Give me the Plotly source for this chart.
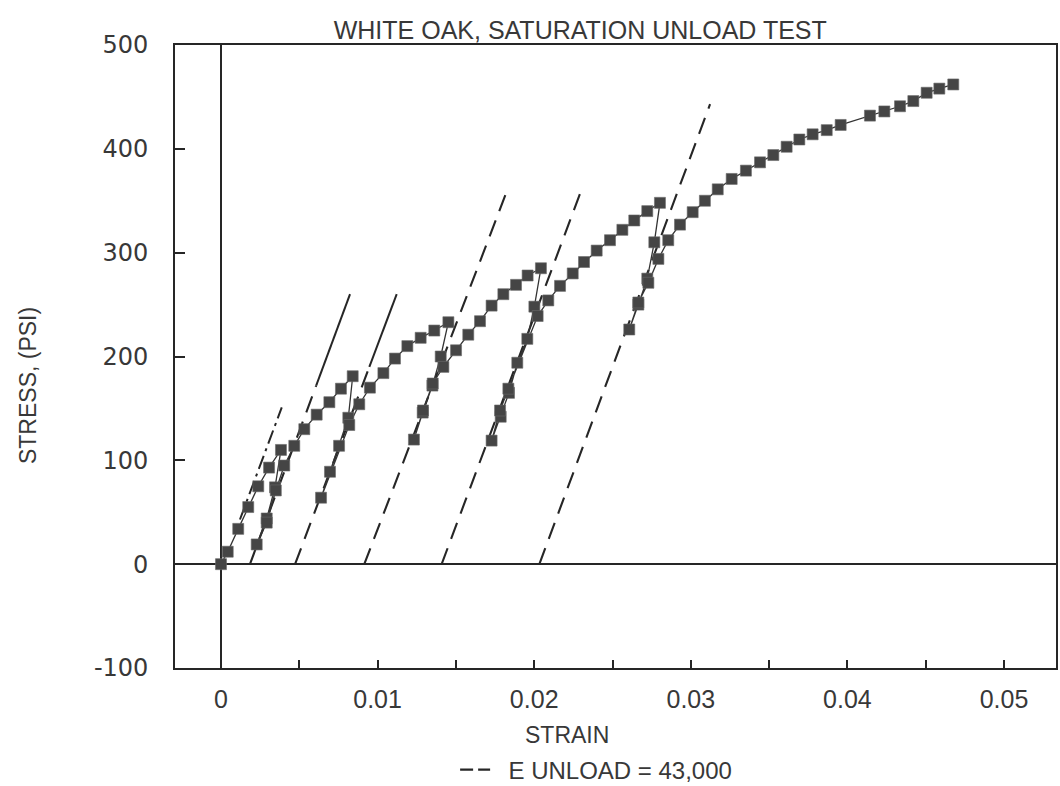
import plotly.graph_objects as go

# ---- measured stress-strain path (loading, unload/reload loops) ----
strain = [
    0.0, 0.00043, 0.00110, 0.00174, 0.00238, 0.00307, 0.00383,
    0.00345, 0.00292, 0.00228,
    0.00292, 0.00350, 0.00404, 0.00468,
    0.00532, 0.00611, 0.00692, 0.00766, 0.00841,
    0.00813, 0.00754, 0.00696, 0.00639,
    0.00819, 0.00883, 0.00951, 0.01037, 0.01111, 0.01190, 0.01275, 0.01362, 0.01452,
    0.01403, 0.01350, 0.01288, 0.01232,
    0.01290, 0.01352, 0.01420, 0.01501, 0.01579, 0.01654, 0.01728, 0.01803,
    0.01884, 0.01958, 0.02043,
    0.02001, 0.01956, 0.01892, 0.01839, 0.01786, 0.01728,
    0.01782, 0.01835, 0.02022, 0.02090, 0.02165, 0.02246, 0.02318, 0.02399,
    0.02484, 0.02563, 0.02639, 0.02722, 0.02803,
    0.02767, 0.02722, 0.02665, 0.02607,
    0.02665, 0.02729, 0.02793, 0.02856, 0.02931, 0.03012, 0.03090, 0.03172,
    0.03261, 0.03352, 0.03442, 0.03527, 0.03612, 0.03693, 0.03778, 0.03868,
    0.03957, 0.04144, 0.04236, 0.04336, 0.04421, 0.04506, 0.04587, 0.04676,
]
stress = [
    0, 12, 34, 55, 75, 93, 110,
    74, 44, 19,
    40, 71, 95, 114,
    130, 144, 156, 169, 181,
    141, 114, 89, 64,
    134, 154, 170, 184, 198, 210, 218, 225, 233,
    200, 172, 146, 120,
    148, 174, 190, 206, 221, 234, 249, 260,
    269, 278, 285,
    248, 217, 194, 165, 142, 119,
    148, 169, 239, 254, 268, 280, 291, 302,
    312, 322, 331, 340, 348,
    310, 275, 250, 226,
    252, 271, 294, 312, 327, 339, 350, 361,
    371, 379, 387, 394, 402, 409, 414, 418,
    423, 432, 436, 441, 446, 454, 458, 462,
]

# ---- E unload lines (x-intercept at zero stress, upper end) ----
unload_x0 = [0.00185, 0.00473, 0.00915, 0.01409, 0.02033]
unload_top_x = [0.00824, 0.01122, 0.01835, 0.02303, 0.03123]
unload_top_y = [260, 260, 363, 361, 443]
solid_from_y = [172, 190, 363, 361, 443]   # upper part drawn solid from here

# ---- initial dash-dot line ----
init_x = [0.00121, 0.00388]
init_y = [43, 151]

x_ticks = [0, 0.01, 0.02, 0.03, 0.04, 0.05]
x_ticktext = ["0", "0.01", "0.02", "0.03", "0.04", "0.05"]
y_ticks = [-100, 0, 100, 200, 300, 400, 500]
y_ticktext = ["-100", "0", "100", "200", "300", "400", "500"]

INK = "#262626"
TXT = "#383838"
DASH = "17px,10px"

fig = go.Figure()

for x0, xt, yt, ys in zip(unload_x0, unload_top_x, unload_top_y, solid_from_y):
    xs = x0 + (xt - x0) * ys / yt
    fig.add_trace(go.Scatter(
        x=[x0, xs], y=[0, ys], mode="lines",
        line=dict(color=INK, width=2.1, dash=DASH),
        showlegend=False, hoverinfo="skip"))
    if ys < yt:
        fig.add_trace(go.Scatter(
            x=[xs, xt], y=[ys, yt], mode="lines",
            line=dict(color=INK, width=2.0), showlegend=False, hoverinfo="skip"))

# legend key for the E unload lines
fig.add_trace(go.Scatter(
    x=[None], y=[None], mode="lines",
    line=dict(color=INK, width=2.4, dash="13px,5px"),
    name="  E UNLOAD = 43,000", showlegend=True))

fig.add_trace(go.Scatter(
    x=init_x, y=init_y, mode="lines",
    line=dict(color=INK, width=2.0, dash="14px,5px,3px,5px"),
    showlegend=False, hoverinfo="skip"))

fig.add_trace(go.Scatter(
    x=strain, y=stress, mode="lines+markers",
    line=dict(color="#333333", width=1.3),
    marker=dict(symbol="square", size=11, color="#454545",
                line=dict(color="#6a6a6a", width=0.6)),
    showlegend=False))

fig.update_layout(
    width=1060, height=786,
    margin=dict(l=175, r=4, t=45, b=118, autoexpand=False),
    paper_bgcolor="white", plot_bgcolor="white",
    font=dict(family="Liberation Sans, Arial, sans-serif", color=TXT, size=23),
    title=dict(text="WHITE OAK, SATURATION UNLOAD TEST",
               x=0.46, xref="paper", xanchor="center",
               y=1 - 30 / 786, yref="container", yanchor="middle",
               font=dict(size=25, color=TXT)),
    showlegend=True,
    legend=dict(orientation="h", x=0.478, xanchor="center",
                yref="container", y=1 - 770 / 786, yanchor="middle",
                font=dict(size=24, color=TXT), bgcolor="rgba(0,0,0,0)", itemwidth=30),
    xaxis=dict(range=[-0.002937, 0.05332], tickvals=x_ticks, ticktext=x_ticktext,
               ticks="inside", ticklen=8, tickcolor=INK, tickwidth=1.5,
               minor=dict(dtick=0.005, ticks="inside", ticklen=8, tickcolor=INK, tickwidth=1.5),
               showline=True, linecolor=INK, linewidth=1.6, mirror=True,
               showgrid=False, zeroline=True, zerolinecolor=INK, zerolinewidth=1.6,
               tickfont=dict(size=25, color=TXT), ticklabelstandoff=8),
    yaxis=dict(range=[-100, 500], tickvals=y_ticks, ticktext=y_ticktext,
               ticks="inside", ticklen=10, tickcolor=INK, tickwidth=1.5,
               showline=True, linecolor=INK, linewidth=1.6, mirror=True,
               showgrid=False, zeroline=True, zerolinecolor=INK, zerolinewidth=1.6,
               tickfont=dict(family="DejaVu Sans, sans-serif", size=24, color=TXT),
               ticklabelstandoff=20),
)

fig.add_annotation(text="STRAIN", xref="paper", yref="paper",
                   x=0.445, y=-0.107, xanchor="center", yanchor="middle",
                   showarrow=False, font=dict(size=23, color=TXT))
fig.add_annotation(text="STRESS, (PSI)", xref="paper", yref="paper",
                   x=-0.167, y=0.454, xanchor="center", yanchor="middle",
                   textangle=-90, showarrow=False, font=dict(size=23, color=TXT))

fig.write_html("out.html")
